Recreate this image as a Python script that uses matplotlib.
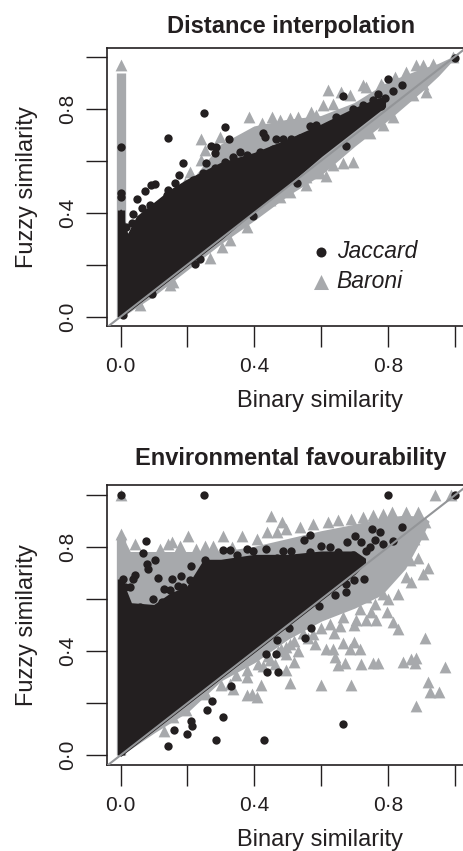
import numpy as np
import matplotlib
matplotlib.use("Agg")
import matplotlib.pyplot as plt

plt.rcParams['font.family'] = ['Liberation Sans', 'DejaVu Sans']

# --- valores ---
tick_vals = [0.0, 0.2, 0.4, 0.6, 0.8, 1.0]
tick_labels = ['0·0', '', '0·4', '', '0·8', '']

# painel de cima: envelopes das nuvens densas
d_bar_x = [0, .1, .2, .3, .4, .5, .6, .7, .8, .9, .95, 1.0]
d_bar_low = [0, .085, .185, .285, .375, .47, .55, .66, .76, .87, .93, 1.0]
d_bar_up = [0, .30, .50, .66, .73, .756, .77, .82, .90, .95, .97, 1.0]
d_col_top = 0.936
d_jac_x = [0, .02, .05, .1, .15, .2, .3, .4, .5, .6, .7, .75, .79]
d_jac_low = [0, .02, .05, .1, .15, .2, .3, .41, .51, .62, .72, .77, .81]
d_jac_up = [.41, .31, .385, .436, .487, .526, .59, .628, .68, .737, .80, .827, .846]

d_bar_pts_x = [0, .385, .452, .477, .506, .531, .571, .606, .621, .661, .726, .781, .82, .885, .935, .995,
               .422, .392, .367, .242, .297, .252, .242, .317, .207, .192, .546, .496, .696, .666, .636,
               .616, .596, .556, .526, .506, .477, .377, .302, .148, .058, .915, .876, .815, .785, .746,
               .347, .467, .586, .636, .686, .736, .786, .855, .905, .556, .447, .327, .267, .158, .905]
d_bar_pts_y = [.968, .767, .767, .756, .763, .767, .788, .814, .872, .865, .891, .897, .923, .968, .974, 1.0,
               .744, .705, .679, .683, .692, .641, .603, .654, .558, .513, .724, .718, .596, .59, .583,
               .541, .551, .506, .526, .481, .462, .346, .269, .122, .045, .865, .853, .769, .737, .705,
               .673, .724, .776, .82, .853, .885, .885, .942, .968, .538, .449, .295, .224, .135, .897]
d_jac_pts_x = [.249, .143, .312, .323, .269, .285, .282, .187, .257, .175, .103, .091, .073, .048, .143,
               .163, .036, .063, 0, 0, 0, .427, .432, .464, .487, .511, .566, .586, .666, .799, .816, .842,
               .771, .791, .779, 1.0, .674, .528, .397, .222, .237, .008, .093, .337, .357,
               .016, .033, .088, .123, .138, .217, .247, .282, .312, .377, .417, .457, .497, .536, .586,
               .646, .696, .726, .756]
d_jac_pts_y = [.782, .686, .728, .682, .656, .654, .628, .592, .592, .545, .509, .505, .485, .451, .487,
               .515, .395, .419, .654, .477, .459, .708, .692, .682, .682, .682, .733, .737, .849, .913, .868, .89,
               .855, .84, .81, .997, .656, .513, .387, .203, .22, .006, .087, .613, .635,
               .346, .359, .429, .442, .468, .526, .551, .571, .596, .622, .635, .647, .66, .686, .712,
               .769, .801, .814, .833]

# painel de baixo
e_bar_x = [0, .02, .1, .2, .3, .4, .5, .6, .7, .78, .85, .9, .92]
e_bar_low = [0, .02, .09, .17, .29, .36, .45, .52, .57, .62, .72, .84, .90]
e_bar_up = [.84, .78, .78, .78, .78, .80, .83, .86, .885, .91, .92, .915, .90]
e_col_top = 0.84
e_jac_x = [0, .03, .1, .15, .2, .25, .3, .4, .5, .6, .7, .73]
e_jac_low = [0, .03, .1, .15, .2, .25, .3, .4, .5, .6, .7, .74]
e_jac_up = [.68, .583, .576, .621, .647, .75, .75, .769, .769, .782, .782, .756]

e_bar_pts_x = [.91, .97, .92, .927, .953, .885, .845, .87, .885, .88, .756, .771, .719, .671, .651, .641,
               .616, .636, .666, .699, .686, .716, .689, .599, .506, .42, .496, .518, .531, .496, .581,
               .377, .392, .407, .335, .13, .377, .427, .462, .83, .815, .796, .766, .736, .706, .656, .761,
               .92, .905, .87, .855, .89, .905, .877, .94, .99, 0, .449, .482, .621, .536, .437, .362, .305,
               .202, 0, .153, .252, .811, .756, .691,
               .013, .043, .118, .143, .177, .227, .277, .332, .407, .467, .496, .576, .651, .726, .786, .855,
               .89, .91, .865, .845, .781, .786, .736, .716, .666, .626, .576, .506, .496, .447, .377, .327,
               .257, .197, .158,
               .545, .52, .47, .44, .41, .60, .64, .70, .75, .80, .83, .345, .30, .48, .56]
e_bar_pts_y = [.452, .341, .281, .243, .243, .189, .358, .371, .375, .354, .356, .356, .352, .356, .348, .377,
               .407, .407, .433, .435, .407, .407, .271, .271, .279, .271, .329, .358, .399, .416, .429,
               .23, .236, .223, .255, .092, .3, .345, .352, .486, .512, .551, .519, .519, .519, .499, .583,
               .721, .698, .666, .686, .76, .852, .833, 1.0, 1.0, 1.0, .919, .897, .897, .878, .859, .842, .842,
               .842, .852, .82, .807, .936, .926, .91,
               .801, .814, .795, .814, .807, .795, .807, .801, .833, .859, .872, .891, .904, .917, .929, .936,
               .936, .897, .75, .788, .673, .621, .608, .564, .531, .506, .467, .429, .39, .365, .326, .275,
               .236, .172, .146,
               .47, .44, .40, .38, .35, .49, .47, .50, .55, .60, .62, .31, .27, .41, .45]
e_jac_pts_x = [0, .249, .799, 1.0, .666, .428, .285, .143, .199, .16, .307, .259, .212, .214, .272, .329,
               .439, .471, .434, .464, .469, .551, .571, .503, .594, .674, .676, .699, .728, .641, .842, .754,
               .776, .816, .566, .549, .076, .066, .104, .08, .081, .113, .043, .038, .008, .153, .18, .13,
               .172, .098, .212, .207, .307, .327, .377, .397, .434, .509, .487, .601, .628, .679, .701, .72,
               .736, .785, .746, .761,
               .028, .013, .058, .123, .148, .187, .252, .277, .347, .467, .526, .566, .651, .696, .711]
e_jac_pts_y = [1.0, 1.0, 1.0, 1.0, .118, .059, .059, .036, .08, .095, .146, .172, .131, .114, .208, .268,
               .321, .321, .39, .388, .442, .452, .49, .489, .573, .628, .66, .675, .678, .615, .878, .869,
               .859, .823, .849, .827, .824, .779, .75, .737, .718, .683, .692, .679, .679, .679, .689, .641,
               .653, .602, .73, .676, .788, .788, .795, .786, .795, .786, .786, .805, .801, .82, .842, .82,
               .786, .814, .801, .827,
               .647, .647, .57, .589, .634, .647, .75, .737, .769, .76, .75, .782, .782, .769, .75]

BLACK = '#231f20'
GREY = '#a7a9ac'

W, H = 464, 851
fig = plt.figure(figsize=(W / 100, H / 100), dpi=100)

def painel(top, bottom, ylim, titulo, titulo_y, bar, jac, bar_pts, jac_pts, col_top):
    left, right = 107.3, 468.0
    ax = fig.add_axes([left / W, 1 - bottom / H, (right - left) / W, (bottom - top) / H])
    ax.set_xlim(-0.04, 1.04)
    ax.set_ylim(*ylim)
    ax.fill_between(bar[0], bar[1], bar[2], color=GREY, lw=1.5, zorder=1)
    ax.plot([0, 0], [0, col_top], color=GREY, lw=6.7, solid_capstyle='butt', zorder=1.2)
    ax.scatter(bar_pts[0], bar_pts[1], marker='^', s=72, color=GREY, lw=0, zorder=1.5)
    ax.fill_between(jac[0], jac[1], jac[2], color=BLACK, lw=1.5, zorder=2)
    ax.plot([0, 0], [0, jac[2][0]], color=BLACK, lw=5.3, solid_capstyle='butt', zorder=2.2)
    ax.scatter(jac_pts[0], jac_pts[1], marker='o', s=36, color=BLACK, lw=0, zorder=2.5)
    ax.plot([-0.04, 1.04], [-0.04, 1.04], color='#939598', lw=1.5, zorder=3)

    ax.set_xticks(tick_vals, tick_labels)
    ax.set_yticks(tick_vals, tick_labels, rotation=90, va='center')
    ax.tick_params(length=15, width=1.0, color=BLACK, labelcolor=BLACK, labelsize=15, pad=7)
    for s in ax.spines.values():
        s.set_linewidth(1.2)
        s.set_color(BLACK)
    fig.text(320 / W, 1 - (bottom + 75) / H, 'Binary similarity', fontsize=17,
             color=BLACK, ha='center', va='center')
    fig.text(27 / W, 1 - (top + bottom) / 2 / H, 'Fuzzy similarity', fontsize=17, color=BLACK,
             rotation=90, ha='center', va='center')
    fig.text(291 / W, 1 - titulo_y / H, titulo, fontsize=17, fontweight='bold',
             color=BLACK, ha='center', va='center')
    return ax

ax1 = painel(47.7, 326, (-0.036, 1.035), 'Distance interpolation', 26,
             (d_bar_x, d_bar_low, d_bar_up), (d_jac_x, d_jac_low, d_jac_up),
             (d_bar_pts_x, d_bar_pts_y), (d_jac_pts_x, d_jac_pts_y), d_col_top)

ax2 = painel(485, 765, (-0.038, 1.04), 'Environmental favourability', 459,
             (e_bar_x, e_bar_low, e_bar_up), (e_jac_x, e_jac_low, e_jac_up),
             (e_bar_pts_x, e_bar_pts_y), (e_jac_pts_x, e_jac_pts_y), e_col_top)

# legenda
h1 = ax1.scatter([], [], marker='o', s=52, color=BLACK, lw=0, label='Jaccard')
h2 = ax1.scatter([], [], marker='^', s=117, color=GREY, lw=0, label='Baroni')
leg = ax1.legend(handles=[h1, h2], loc='lower left', bbox_to_anchor=(0.56, 0.117), frameon=False,
                 prop={'style': 'italic', 'size': 16.5}, labelspacing=0.33, handlelength=1,
                 handletextpad=0.2, labelcolor=BLACK, borderaxespad=0, borderpad=0)

fig.savefig('out.png', dpi=100)
